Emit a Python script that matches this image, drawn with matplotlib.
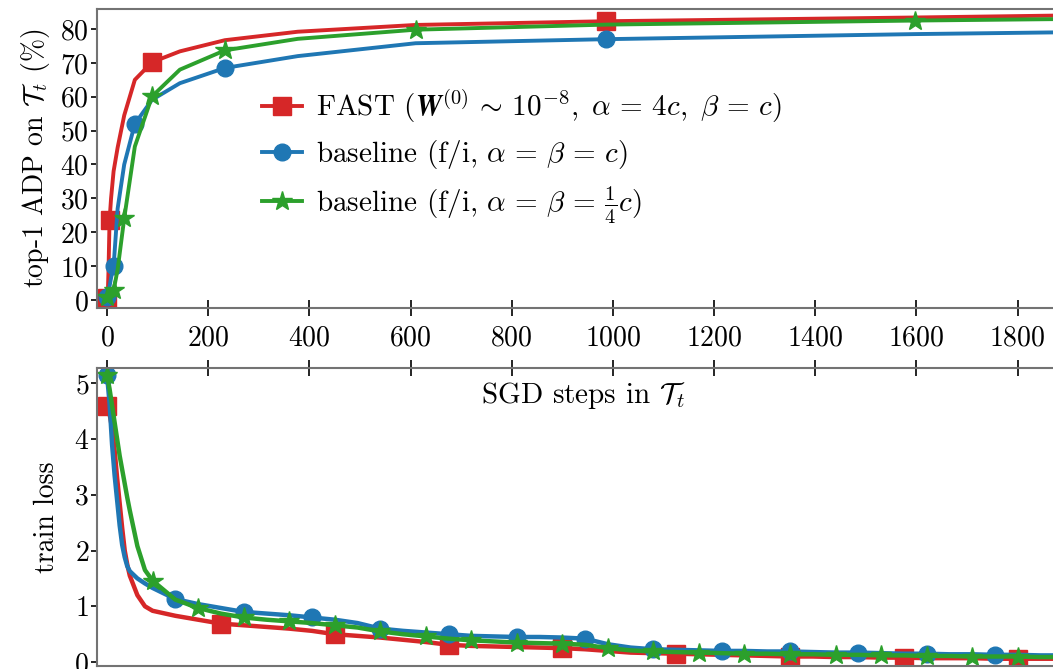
import matplotlib
matplotlib.use("Agg")
import matplotlib.pyplot as plt

# ── Style ─────────────────────────────────────────────────────────────
plt.rcParams["font.family"] = "serif"
plt.rcParams["font.serif"] = ["cmr10"]
plt.rcParams["mathtext.fontset"] = "cm"
plt.rcParams["axes.formatter.use_mathtext"] = True
plt.rcParams["font.size"] = 20

RED, BLUE, GREEN = "#d62728", "#1f77b4", "#2ca02c"

# ── Data: top-1 accuracy at evaluation steps ──────────────────────────
eval_steps = [0, 1, 2, 3, 5, 8, 13, 21, 34, 55, 89, 144, 233, 377, 610, 987, 1597, 2584]
fast_acc = [0.6, 1.5, 4, 9, 23.5, 30, 38, 45, 54.5, 65, 70.2, 73.4, 76.7, 79.2, 81.2, 82.3, 83.4, 85.4]
base_acc = [0.9, 1.2, 1.8, 2.6, 4, 6.5, 9.9, 27, 40, 52, 59.1, 64, 68.5, 72, 75.8, 77.0, 78.5, 80.3]
quarter_acc = [1.0, 1.1, 1.3, 1.5, 1.8, 2.1, 2.8, 9, 24.1, 45.3, 60.1, 68, 73.7, 77.1, 79.8, 81.3, 82.5, 84.0]

# ── Data: training loss ───────────────────────────────────────────────
loss_steps = [0, 5, 10, 15, 20, 25, 30, 35, 40, 45, 60, 75,
              90, 135, 180, 225, 270, 315, 360, 405, 450, 495, 540, 585, 630, 675,
              720, 765, 810, 855, 900, 945, 990, 1035, 1080, 1125, 1170, 1215, 1260,
              1305, 1350, 1395, 1440, 1485, 1530, 1575, 1620, 1665, 1710, 1755, 1800,
              1845, 1890]
fast_loss = [4.6, 4.45, 4.2, 3.8, 3.3, 2.85, 2.4, 2.0, 1.75, 1.55, 1.2, 1.0,
             0.92, 0.83, 0.76, 0.69, 0.66, 0.63, 0.6, 0.56, 0.5, 0.47, 0.44, 0.4, 0.36, 0.31,
             0.29, 0.28, 0.27, 0.26, 0.25, 0.23, 0.2, 0.17, 0.16, 0.15, 0.14, 0.13, 0.12,
             0.11, 0.1, 0.1, 0.09, 0.09, 0.08, 0.08, 0.07, 0.07, 0.07, 0.06, 0.06,
             0.06, 0.06]
base_loss = [5.15, 4.65, 3.9, 3.35, 2.9, 2.45, 2.1, 1.88, 1.72, 1.63, 1.5, 1.41,
             1.33, 1.13, 1.04, 0.97, 0.9, 0.87, 0.84, 0.8, 0.76, 0.7, 0.6, 0.56, 0.53, 0.5,
             0.47, 0.46, 0.45, 0.45, 0.44, 0.42, 0.32, 0.26, 0.23, 0.22, 0.21, 0.2, 0.2,
             0.19, 0.19, 0.18, 0.17, 0.17, 0.16, 0.15, 0.15, 0.14, 0.14, 0.13, 0.13,
             0.12, 0.12]
quarter_loss = [5.15, 4.9, 4.6, 4.3, 4.0, 3.7, 3.45, 3.2, 2.95, 2.72, 2.08, 1.65,
                1.46, 1.12, 0.97, 0.87, 0.8, 0.76, 0.73, 0.7, 0.66, 0.62, 0.55, 0.5, 0.46, 0.42,
                0.39, 0.37, 0.35, 0.34, 0.33, 0.31, 0.25, 0.21, 0.19, 0.18, 0.17, 0.16, 0.15,
                0.15, 0.14, 0.14, 0.13, 0.13, 0.12, 0.12, 0.11, 0.11, 0.1, 0.1, 0.1,
                0.09, 0.09]

labels = [
    r"FAST ($\boldsymbol{W}^{(0)} \,\sim\, 10^{-8},\ \alpha \,=\, 4c,\ \beta \,=\, c$)",
    r"baseline (f/i, $\alpha \,=\, \beta \,=\, c$)",
    r"baseline (f/i, $\alpha \,=\, \beta \,=\, \frac{1}{4}c$)",
]

# ── Figure / axes ─────────────────────────────────────────────────────
fig = plt.figure(figsize=(10.53, 6.69), dpi=100)
ax_top = fig.add_axes([0.0925, 0.5395, 0.922, 0.447])
ax_bot = fig.add_axes([0.0925, 0.0045, 0.922, 0.446])

# markers on top panel (indices into eval_steps)
top_marks = [[0, 4, 10, 15], [0, 6, 9, 12, 15], [0, 6, 8, 10, 12, 14, 16]]
series_top = [fast_acc, base_acc, quarter_acc]
series_bot = [fast_loss, base_loss, quarter_loss]
colors = [RED, BLUE, GREEN]
markers = ["s", "o", "*"]
msizes = [13, 12, 15]
bot_every = [225, 135, 90]

for acc, col, mk, ms, lab, mi in zip(series_top, colors, markers, msizes, labels, top_marks):
    ax_top.plot(eval_steps, acc, color=col, lw=2.8, marker=mk, ms=ms,
                markevery=mi, label=lab)

for loss, col, mk, ms, every in zip(series_bot, colors, markers, msizes, bot_every):
    idx = [i for i, s in enumerate(loss_steps) if s % every == 0]
    ax_bot.plot(loss_steps, loss, color=col, lw=3.2, marker=mk, ms=ms, markevery=idx)

for ax in (ax_top, ax_bot):
    ax.set_xlim(-19, 1900)
    ax.set_xticks(range(0, 1801, 200))
    for sp in ax.spines.values():
        sp.set_color("0.45")
        sp.set_linewidth(1.5)
    ax.tick_params(axis="y", direction="out", length=4, width=1.2, pad=2)

ax_top.set_ylim(-2.4, 85.9)
ax_top.set_yticks(range(0, 81, 10))
ax_top.tick_params(axis="x", direction="inout", length=12, width=1.2, pad=6)
ax_top.set_ylabel(r"top-1 ADP on $\mathcal{T}_t$ (%)", labelpad=6)

ax_bot.set_ylim(-0.07, 5.28)
ax_bot.set_yticks(range(0, 6))
ax_bot.tick_params(axis="x", direction="inout", length=12, width=1.2,
                   top=True, bottom=False, labeltop=False, labelbottom=False)
ax_bot.set_ylabel("train loss", labelpad=10)
ax_bot.set_xlabel(r"SGD steps in $\mathcal{T}_t$", fontsize=21)
ax_bot.xaxis.label.set_va("center")
ax_bot.xaxis.set_label_coords(0.5, 0.905)

ax_top.legend(loc="upper left", bbox_to_anchor=(0.146, 0.815), frameon=False,
              fontsize=21, handlelength=1.35, labelspacing=0.45, handletextpad=0.5,
              borderpad=0.3)

fig.savefig("out.png", dpi=100)
